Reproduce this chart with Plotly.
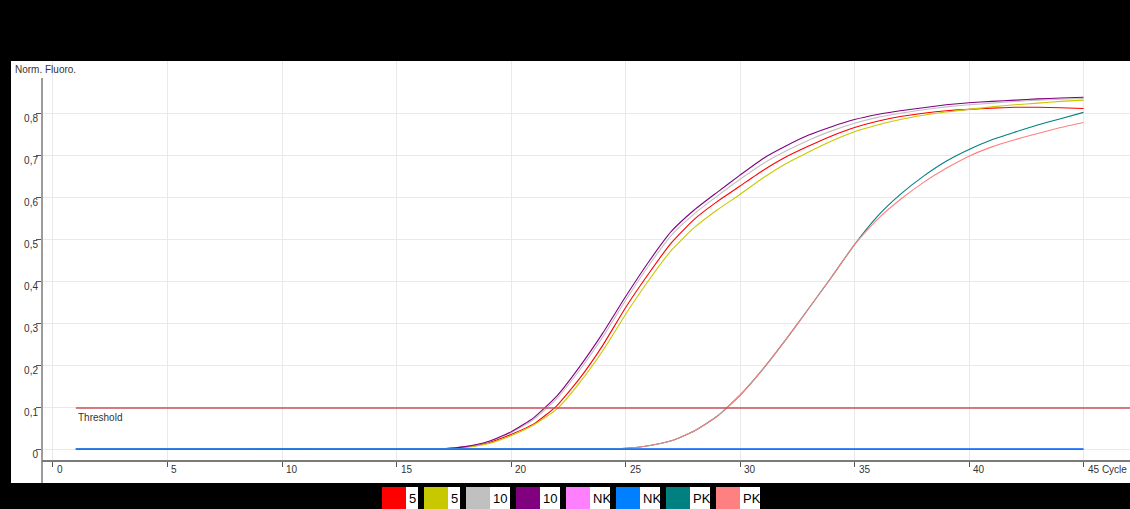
import plotly.graph_objects as go

# Amplification run: normalised fluorescence per cycle
cycles = list(range(1, 46))

series_labels = ["5", "5", "10", "10", "NK", "NK", "PK", "PK"]
series_colors = ["#ff0000", "#c8c800", "#c0c0c0", "#800080",
                 "#ff80ff", "#0080ff", "#008080", "#ff8080"]

sample_5_red = [0.003, 0.003, 0.003, 0.003, 0.003, 0.003, 0.002, 0.002, 0.002, 0.002,
                0.002, 0.002, 0.002, 0.002, 0.002, 0.002, 0.003, 0.007, 0.017, 0.037,
                0.062, 0.105, 0.170, 0.248, 0.338, 0.418, 0.492, 0.548, 0.590, 0.627,
                0.664, 0.696, 0.722, 0.746, 0.766, 0.781, 0.792, 0.800, 0.806, 0.809,
                0.812, 0.814, 0.814, 0.813, 0.811]

sample_5_yellow = [0.002, 0.002, 0.002, 0.002, 0.003, 0.003, 0.003, 0.002, 0.002, 0.002,
                   0.002, 0.002, 0.002, 0.002, 0.002, 0.002, 0.003, 0.006, 0.015, 0.034,
                   0.060, 0.097, 0.160, 0.235, 0.322, 0.402, 0.474, 0.528, 0.570, 0.607,
                   0.646, 0.680, 0.708, 0.734, 0.756, 0.772, 0.785, 0.795, 0.803, 0.809,
                   0.815, 0.820, 0.824, 0.828, 0.831]

sample_10_gray = [0.002, 0.002, 0.002, 0.002, 0.002, 0.002, 0.002, 0.002, 0.002, 0.002,
                  0.002, 0.002, 0.002, 0.002, 0.002, 0.002, 0.003, 0.008, 0.019, 0.041,
                  0.073, 0.122, 0.190, 0.268, 0.355, 0.437, 0.510, 0.561, 0.603, 0.643,
                  0.680, 0.710, 0.736, 0.758, 0.776, 0.790, 0.800, 0.808, 0.815, 0.820,
                  0.824, 0.828, 0.831, 0.833, 0.835]

sample_10_purple = [0.002, 0.002, 0.002, 0.002, 0.002, 0.002, 0.002, 0.002, 0.002, 0.002,
                    0.002, 0.002, 0.002, 0.002, 0.002, 0.002, 0.003, 0.008, 0.020, 0.043,
                    0.077, 0.128, 0.198, 0.277, 0.364, 0.446, 0.519, 0.570, 0.612, 0.653,
                    0.692, 0.722, 0.748, 0.768, 0.785, 0.797, 0.806, 0.813, 0.820, 0.825,
                    0.828, 0.831, 0.834, 0.836, 0.838]

nk_pink = [0.003, 0.003, 0.003, 0.003, 0.003, 0.002, 0.002, 0.002, 0.002, 0.002,
           0.002, 0.002, 0.002, 0.002, 0.002, 0.002, 0.002, 0.002, 0.002, 0.002,
           0.002, 0.002, 0.002, 0.002, 0.002, 0.002, 0.002, 0.002, 0.002, 0.002,
           0.002, 0.002, 0.002, 0.002, 0.002, 0.002, 0.002, 0.002, 0.002, 0.002,
           0.002, 0.002, 0.002, 0.002, 0.002]

nk_blue = [0.002, 0.002, 0.002, 0.002, 0.002, 0.002, 0.002, 0.002, 0.002, 0.002,
           0.002, 0.002, 0.002, 0.002, 0.002, 0.002, 0.002, 0.002, 0.002, 0.002,
           0.002, 0.002, 0.002, 0.002, 0.002, 0.002, 0.002, 0.002, 0.002, 0.002,
           0.002, 0.002, 0.002, 0.002, 0.002, 0.002, 0.002, 0.002, 0.002, 0.002,
           0.002, 0.002, 0.002, 0.002, 0.002]

pk_teal = [0.002, 0.002, 0.002, 0.002, 0.002, 0.002, 0.002, 0.002, 0.003, 0.003,
           0.003, 0.002, 0.002, 0.002, 0.002, 0.002, 0.002, 0.002, 0.002, 0.002,
           0.002, 0.002, 0.002, 0.002, 0.004, 0.010, 0.022, 0.045, 0.080, 0.130,
           0.192, 0.262, 0.336, 0.411, 0.488, 0.555, 0.607, 0.650, 0.686, 0.714,
           0.737, 0.755, 0.772, 0.787, 0.802]

pk_salmon = [0.002, 0.002, 0.002, 0.002, 0.002, 0.002, 0.002, 0.002, 0.002, 0.002,
             0.002, 0.002, 0.002, 0.002, 0.002, 0.002, 0.002, 0.002, 0.002, 0.002,
             0.002, 0.002, 0.002, 0.002, 0.004, 0.010, 0.022, 0.045, 0.080, 0.130,
             0.192, 0.262, 0.336, 0.411, 0.488, 0.548, 0.595, 0.635, 0.669, 0.698,
             0.720, 0.737, 0.752, 0.766, 0.778]

series_values = [sample_5_red, sample_5_yellow, sample_10_gray, sample_10_purple,
                 nk_pink, pk_teal, pk_salmon, nk_blue]
series_order = [0, 1, 2, 3, 4, 6, 7, 5]  # colour index for each entry above

threshold = 0.1
threshold_start = 1
x_ticks = [0, 5, 10, 15, 20, 25, 30, 35, 40, 45]
x_tick_text = ["0", "5", "10", "15", "20", "25", "30", "35", "40", "45 Cycle"]
y_ticks = [0, 0.1, 0.2, 0.3, 0.4, 0.5, 0.6, 0.7, 0.8]

FONT = "Liberation Sans, Arial, sans-serif"
W, H = 1130, 509
ML, MR, MT, MB = 42, 0, 61, 49
PW, PH = W - ML - MR, H - MT - MB


def px_x(px):
    return (px - ML) / PW


def px_y(py):
    return (H - MB - py) / PH


fig = go.Figure()

for vals, ci in zip(series_values, series_order):
    flat = series_labels[ci] == "NK"
    fig.add_trace(go.Scatter(
        x=cycles, y=vals, mode="lines",
        line=dict(color=series_colors[ci], width=1.6 if flat else 1.1,
                  shape="spline", smoothing=0.5),
        name=series_labels[ci], showlegend=False, hoverinfo="skip"))

x_max = 47.03
fig.add_trace(go.Scatter(
    x=[threshold_start, x_max], y=[threshold, threshold], mode="lines",
    line=dict(color="#c9505a", width=1.5), showlegend=False, hoverinfo="skip"))

shapes = [
    # white chart panel behind axes and labels
    dict(type="rect", xref="paper", yref="paper", x0=px_x(11), x1=1.0,
         y0=px_y(483), y1=1.0, fillcolor="white", line=dict(width=0), layer="below"),
    # vertical axis line
    dict(type="line", xref="paper", yref="paper", x0=0, x1=0,
         y0=px_y(483), y1=px_y(78), line=dict(color="#7a7a7a", width=1.5)),
]

annotations = [
    dict(text="Norm. Fluoro.", xref="paper", yref="paper", x=px_x(13), y=px_y(69),
         xanchor="left", yanchor="middle", showarrow=False,
         font=dict(family=FONT, size=10, color="#333333")),
    dict(text="Threshold", xref="x", yref="y", x=threshold_start, y=threshold,
         xanchor="left", yanchor="top", yshift=-2, showarrow=False,
         font=dict(family=FONT, size=10, color="#333333")),
]

for tv, tt in zip(x_ticks, x_tick_text):
    annotations.append(dict(
        text=tt, xref="x", yref="paper", x=tv, y=px_y(470), xanchor="left",
        yanchor="middle", xshift=2, showarrow=False,
        font=dict(family=FONT, size=10, color="#333333")))

# legend strip along the bottom band
lx = 382
for lab, col in zip(series_labels, series_colors):
    box_w = 24
    text_w = 4 + 8 * len(lab)
    shapes.append(dict(type="rect", xref="paper", yref="paper",
                       x0=px_x(lx), x1=px_x(lx + box_w), y0=px_y(509), y1=px_y(487),
                       fillcolor=col, line=dict(width=0)))
    shapes.append(dict(type="rect", xref="paper", yref="paper",
                       x0=px_x(lx + box_w), x1=px_x(lx + box_w + text_w),
                       y0=px_y(509), y1=px_y(487),
                       fillcolor="white", line=dict(width=0)))
    annotations.append(dict(text=lab, xref="paper", yref="paper",
                            x=px_x(lx + box_w + 1), y=px_y(498),
                            xanchor="left", yanchor="middle", showarrow=False,
                            font=dict(family=FONT, size=13, color="black")))
    lx += box_w + text_w + 6

fig.update_layout(
    width=W, height=H,
    margin=dict(l=ML, r=MR, t=MT, b=MB, pad=0),
    paper_bgcolor="black", plot_bgcolor="white",
    separators=",.",
    shapes=shapes, annotations=annotations,
    xaxis=dict(range=[-0.48, x_max], tickvals=x_ticks, showticklabels=False,
               ticks="outside", ticklen=5, tickcolor="#555555", tickwidth=1,
               showline=True, linecolor="#7a7a7a", linewidth=1.5,
               showgrid=True, gridcolor="#e9e9e9", gridwidth=1, zeroline=False),
    yaxis=dict(range=[-0.0238, 0.924], tickvals=y_ticks,
               ticks="outside", ticklen=5, tickcolor="#555555", tickwidth=1,
               tickfont=dict(family=FONT, size=10, color="#333333"),
               ticklabelshift=5, ticklabelstandoff=-4,
               showline=False, showgrid=True, gridcolor="#e9e9e9", gridwidth=1,
               zeroline=False),
)

fig.write_html("out.html")
